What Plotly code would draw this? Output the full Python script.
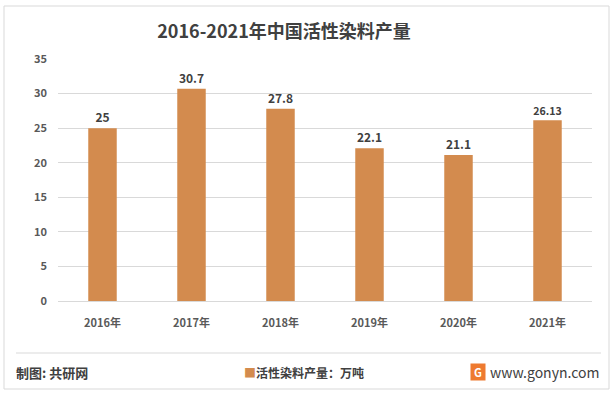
import plotly.graph_objects as go

years = ["2016年", "2017年", "2018年", "2019年", "2020年", "2021年"]
values = [25, 30.7, 27.8, 22.1, 21.1, 26.13]
labels = ["25", "30.7", "27.8", "22.1", "21.1", "26.13"]
y_ticks = [0, 5, 10, 15, 20, 25, 30, 35]

W, H = 613, 393
L, R, T, B = 58, 21, 59, 92
pw, ph = W - L - R, H - T - B

def px(x):
    return (x - L) / pw

def py(y):
    return (H - B - y) / ph

FONT = "Noto Sans CJK SC"
BAR = "#D38B4E"
fig = go.Figure()
fig.add_trace(go.Bar(
    x=years, y=values, width=0.32,
    marker=dict(color=BAR, line=dict(width=0)),
    text=["<b>%s</b>" % s for s in labels], textposition="outside",
    textfont=dict(family=FONT, size=12, color="#404040"),
    name="活性染料产量：万吨", showlegend=False, cliponaxis=False,
))

fig.update_layout(
    width=W, height=H,
    margin=dict(l=L, r=R, t=T, b=B, autoexpand=False),
    paper_bgcolor="white", plot_bgcolor="white",
    font=dict(family=FONT, color="#595959", size=11),
    title=dict(text="<b>2016-2021年中国活性染料产量</b>", x=284 / W, xanchor="center",
               xref="container", y=1 - 32 / H, yanchor="middle",
               font=dict(family=FONT, size=18, color="#404040")),
    xaxis=dict(showgrid=False, showline=True, linecolor="#D9D9D9", linewidth=1,
               ticks="", tickfont=dict(family=FONT, size=11, color="#595959", weight="bold"),
               ticklabelstandoff=12, fixedrange=True),
    yaxis=dict(range=[0, 35], tickvals=y_ticks, showgrid=True, gridcolor="#D9D9D9",
               gridwidth=1, zeroline=False, showline=False, ticks="",
               tickfont=dict(family=FONT, size=11, color="#595959", weight="bold"),
               ticklabelstandoff=10, fixedrange=True),
    showlegend=False,
)

# outer border
fig.add_shape(type="rect", xref="paper", yref="paper",
              x0=px(4), x1=px(609), y0=py(389), y1=py(6),
              line=dict(color="#D9D9D9", width=1), fillcolor="rgba(0,0,0,0)", layer="below")
# separator line
fig.add_shape(type="line", xref="paper", yref="paper",
              x0=px(16), x1=px(601), y0=py(353), y1=py(353),
              line=dict(color="#D9D9D9", width=1))

fig.add_annotation(text="<b>制图: 共研网</b>", xref="paper", yref="paper",
                   x=px(14), y=py(372), xanchor="left", yanchor="middle", showarrow=False,
                   font=dict(family=FONT, size=13, color="#404040"))
fig.add_annotation(text="<span style='color:%s'>■</span><b>活性染料产量：万吨</b>" % BAR,
                   xref="paper", yref="paper",
                   x=px(242), y=py(372), xanchor="left", yanchor="middle", showarrow=False,
                   font=dict(family=FONT, size=12, color="#404040"))
fig.add_annotation(text="<b>G</b>", xref="paper", yref="paper",
                   x=px(478), y=py(372), xanchor="center", yanchor="middle", showarrow=False,
                   bgcolor="#EE7A30", font=dict(family=FONT, size=11, color="white"),
                   width=14, height=16, borderpad=0)
fig.add_annotation(text="www.gonyn.com", xref="paper", yref="paper",
                   x=px(601), y=py(372), xanchor="right", yanchor="middle", showarrow=False,
                   font=dict(family=FONT, size=14, color="#404040"))

fig.write_html("out.html", config={"displayModeBar": False},
               post_script="document.body.style.margin='0';document.body.style.overflow='hidden';")
